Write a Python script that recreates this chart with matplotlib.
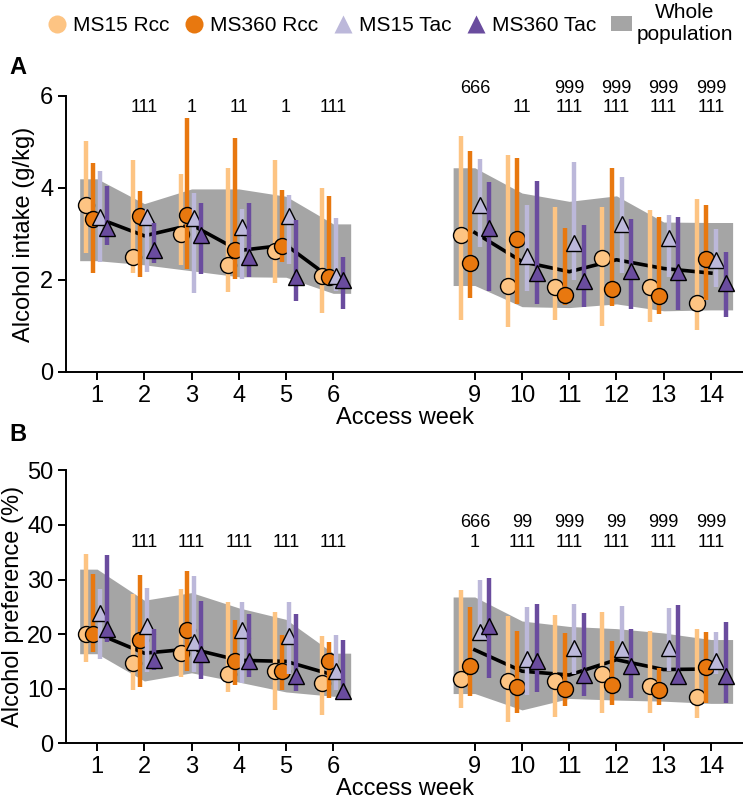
import numpy as np
import matplotlib
matplotlib.use('Agg')
import matplotlib.pyplot as plt
from matplotlib.lines import Line2D
from matplotlib.patches import Patch

plt.rcParams['font.family'] = ['Liberation Sans Narrow', 'Liberation Sans', 'DejaVu Sans']

weeks_1 = [1, 2, 3, 4, 5, 6]
weeks_2 = [9, 10, 11, 12, 13, 14]
weeks = weeks_1 + weeks_2

groups = ['MS15 Rcc', 'MS360 Rcc', 'MS15 Tac', 'MS360 Tac']
colors = ['#fdc483', '#e8780f', '#bcb8da', '#6a4c9e']
markers = ['o', 'o', '^', '^']

# ---- A: alcohol intake (g/kg), mean / upper / lower per group
intake_mean = {
    'MS15 Rcc':  [3.64, 2.51, 3.00, 2.33, 2.64, 2.09, 2.98, 1.88, 1.85, 2.47, 1.85, 1.51],
    'MS360 Rcc': [3.32, 3.40, 3.42, 2.65, 2.75, 2.07, 2.38, 2.89, 1.67, 1.80, 1.65, 2.46],
    'MS15 Tac':  [3.38, 3.38, 3.35, 3.16, 3.40, 2.09, 3.64, 2.53, 2.80, 3.21, 2.91, 2.44],
    'MS360 Tac': [3.13, 2.65, 2.98, 2.51, 2.07, 2.00, 3.14, 2.15, 1.98, 2.20, 2.17, 1.93],
}
intake_hi = {
    'MS15 Rcc':  [5.02, 4.60, 4.30, 4.44, 4.60, 4.00, 5.13, 4.71, 3.58, 3.58, 3.53, 3.77],
    'MS360 Rcc': [4.55, 3.94, 5.53, 5.09, 3.96, 3.83, 4.80, 4.65, 3.13, 4.44, 3.38, 3.64],
    'MS15 Tac':  [4.36, 3.55, 3.90, 3.55, 3.85, 3.35, 4.64, 3.62, 4.56, 4.25, 3.42, 3.11],
    'MS360 Tac': [4.04, 3.24, 3.67, 3.67, 3.31, 2.51, 4.13, 4.15, 3.19, 3.33, 3.36, 2.60],
}
intake_lo = {
    'MS15 Rcc':  [2.58, 2.15, 2.33, 1.75, 1.93, 1.29, 1.14, 0.98, 1.13, 0.99, 1.08, 0.91],
    'MS360 Rcc': [2.15, 2.07, 2.24, 2.03, 2.40, 1.95, 1.60, 1.47, 1.45, 1.43, 1.27, 1.56],
    'MS15 Tac':  [2.40, 2.18, 1.71, 2.02, 2.34, 1.77, 2.71, 1.77, 2.00, 2.15, 2.07, 1.85],
    'MS360 Tac': [2.76, 2.38, 2.13, 2.06, 1.54, 1.36, 1.77, 1.47, 1.42, 1.38, 1.35, 1.19],
}
intake_pop_mean = [3.35, 2.96, 3.20, 2.64, 2.76, 2.00, 3.03, 2.40, 2.18, 2.44, 2.25, 2.15]
intake_pop_hi = [4.20, 3.66, 3.98, 3.98, 3.82, 3.22, 4.44, 3.89, 3.71, 3.83, 3.26, 3.25]
intake_pop_lo = [2.42, 2.33, 2.20, 2.07, 2.06, 1.71, 1.88, 1.42, 1.40, 1.48, 1.33, 1.35]
intake_stars_top = ['', '', '', '', '', '', '666', '', '999', '999', '999', '999']
intake_stars_bot = ['', '111', '1', '11', '1', '111', '', '11', '111', '111', '111', '111']

# ---- B: alcohol preference (%)
pref_mean = {
    'MS15 Rcc':  [20.0, 14.7, 16.5, 12.7, 13.3, 11.0, 11.8, 11.4, 11.4, 12.7, 10.5, 8.5],
    'MS360 Rcc': [20.0, 19.0, 20.8, 15.0, 13.3, 15.0, 14.1, 10.3, 9.9, 10.6, 9.8, 13.9],
    'MS15 Tac':  [23.9, 21.4, 18.6, 20.7, 19.7, 13.3, 20.4, 15.5, 17.5, 17.3, 17.4, 15.0],
    'MS360 Tac': [20.9, 15.3, 16.4, 15.0, 12.3, 9.6, 21.5, 15.0, 12.5, 14.2, 12.3, 12.3],
}
pref_hi = {
    'MS15 Rcc':  [34.7, 27.3, 28.3, 25.9, 24.1, 19.7, 28.0, 23.3, 23.5, 24.1, 20.5, 20.9],
    'MS360 Rcc': [31.1, 30.9, 31.5, 22.6, 19.8, 18.5, 25.0, 20.6, 20.2, 18.8, 13.8, 20.3],
    'MS15 Tac':  [28.2, 28.4, 30.7, 25.9, 25.9, 19.8, 30.0, 25.0, 25.6, 25.2, 24.7, 20.3],
    'MS360 Tac': [34.5, 21.0, 26.1, 23.6, 23.6, 19.0, 30.3, 25.6, 23.8, 20.9, 25.3, 22.2],
}
pref_lo = {
    'MS15 Rcc':  [14.8, 9.7, 12.2, 9.4, 6.1, 5.2, 6.5, 3.8, 4.8, 5.6, 5.6, 4.7],
    'MS360 Rcc': [16.7, 10.3, 13.2, 10.6, 9.7, 8.2, 8.6, 5.6, 6.8, 7.0, 7.0, 7.3],
    'MS15 Tac':  [15.5, 13.0, 13.0, 11.1, 12.7, 9.7, 19.0, 8.8, 12.7, 15.8, 13.3, 12.7],
    'MS360 Tac': [18.5, 13.5, 11.7, 12.2, 9.6, 8.5, 11.9, 9.4, 8.7, 8.3, 10.9, 7.4],
}
pref_pop_mean = [20.1, 16.5, 17.3, 15.2, 15.0, 12.5, 17.1, 13.2, 12.5, 15.3, 13.5, 13.6]
pref_pop_hi = [31.9, 26.2, 27.6, 24.8, 22.7, 16.5, 26.8, 22.4, 21.4, 21.0, 20.2, 19.0]
pref_pop_lo = [16.4, 11.4, 12.9, 11.2, 9.4, 8.6, 9.1, 6.1, 8.2, 7.9, 7.7, 7.3]
pref_stars_top = ['', '', '', '', '', '', '666', '99', '999', '99', '999', '999']
pref_stars_bot = ['', '111', '111', '111', '111', '111', '1', '111', '111', '111', '111', '111']

offsets_1 = [-0.23, -0.09, 0.06, 0.21]
offsets_2 = [-0.30, -0.10, 0.11, 0.31]


def draw_panel(ax, mean, hi, lo, pop_mean, pop_hi, pop_lo, top, bot, ymax, ytop, ybot):
    for half, (wk, offs, ext) in enumerate([(weeks_1, offsets_1, 0.37), (weeks_2, offsets_2, 0.46)]):
        sl = slice(0, 6) if half == 0 else slice(6, 12)
        w = np.array(wk, dtype=float)
        ph = np.array(pop_hi[sl])
        pl = np.array(pop_lo[sl])
        bx = np.concatenate([[w[0] - ext], w, [w[-1] + ext]])
        bh = np.concatenate([[ph[0]], ph, [ph[-1]]])
        bl = np.concatenate([[pl[0]], pl, [pl[-1]]])
        ax.fill_between(bx, bl, bh, color='#a5a5a5', lw=0, zorder=1)
        ax.plot(w, pop_mean[sl], color='black', lw=2.6, zorder=1.5)
        for i, g in enumerate(groups):
            x = w + offs[i]
            ax.vlines(x, lo[g][sl], hi[g][sl], color=colors[i], lw=3.2, zorder=2 + i)
            ax.plot(x, mean[g][sl], ls='none', marker=markers[i], ms=11.5,
                    mfc=colors[i], mec='black', mew=1.0, zorder=2.5 + i)
    for k, wk in enumerate(weeks):
        if top[k]:
            ax.text(wk, ytop, top[k], ha='center', va='center', fontsize=13, clip_on=False)
        if bot[k]:
            ax.text(wk, ybot, bot[k], ha='center', va='center', fontsize=13, clip_on=False)

    ax.set_xlim(0.34, 14.68)
    ax.set_ylim(0, ymax)
    ax.set_xticks(weeks)
    ax.set_xticklabels([str(w) for w in weeks])
    ax.set_xlabel('Access week', fontsize=17, labelpad=0)
    for s in ['top', 'right']:
        ax.spines[s].set_visible(False)
    for s in ['left', 'bottom']:
        ax.spines[s].set_linewidth(1.4)
    ax.tick_params(width=1.4, length=6, labelsize=17, pad=3)


fig = plt.figure(figsize=(7.43, 8), dpi=100)
ax_a = fig.add_axes([0.0888, 0.535, 0.9112, 0.345])
ax_b = fig.add_axes([0.0888, 0.071, 0.9112, 0.341])

draw_panel(ax_a, intake_mean, intake_hi, intake_lo, intake_pop_mean, intake_pop_hi, intake_pop_lo,
           intake_stars_top, intake_stars_bot, 6, 6.17, 5.74)
ax_a.set_yticks([0, 2, 4, 6])
ax_a.set_ylabel('Alcohol intake (g/kg)', fontsize=17, labelpad=4)

draw_panel(ax_b, pref_mean, pref_hi, pref_lo, pref_pop_mean, pref_pop_hi, pref_pop_lo,
           pref_stars_top, pref_stars_bot, 50, 40.4, 36.8)
ax_b.set_yticks([0, 10, 20, 30, 40, 50])
ax_b.set_ylabel('Alcohol preference (%)', fontsize=17, labelpad=2)

fig.text(0.012, 1 - 67 / 800, 'A', fontsize=17, fontweight='bold', va='center')
fig.text(0.012, 1 - 435 / 800, 'B', fontsize=17, fontweight='bold', va='center')

handles = [Line2D([], [], ls='none', marker=m, ms=13, mfc=c, mec='none')
           for m, c in zip(markers, colors)]
handles.append(Patch(facecolor='#a5a5a5', edgecolor='none'))
labels = groups + ['Whole\npopulation']
leg = fig.legend(handles, labels, loc='upper center', bbox_to_anchor=(0.525, 1.012), ncol=5,
                 frameon=False, fontsize=15, handletextpad=0.25, columnspacing=0.7,
                 handlelength=1.0, borderaxespad=0.2)
for t in leg.get_texts():
    t.set_multialignment('center')

fig.savefig('out.png', dpi=100)
